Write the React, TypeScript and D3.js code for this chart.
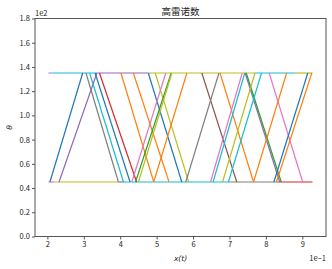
import * as d3 from 'd3';
import { useEffect, useRef } from 'react';

// theta levels (raw values, axis shows them /1e2)
const thetaLow = 45;
const thetaHigh = 135;

// diagonal segments: x where the line sits on the low level and on the high level (raw, axis /1e-1)
const diagColors = [
  '#1f77b4', '#9467bd', '#7f7f7f', '#17becf', '#1f77b4', '#d62728', '#ff7f0e', '#ff7f0e', '#1f77b4',
  '#bcbd22', '#e377c2', '#2ca02c', '#bcbd22', '#ff7f0e', '#8c564b', '#7f7f7f', '#ff7f0e', '#e377c2',
  '#17becf', '#9467bd', '#2ca02c', '#bcbd22', '#17becf', '#ff7f0e', '#e377c2', '#1f77b4', '#ff7f0e',
];
const diagLowX = [
  0.207, 0.232, 0.395, 0.409, 0.427, 0.445, 0.492, 0.534, 0.569,
  0.588, 0.432, 0.442, 0.450, 0.492, 0.720, 0.580, 0.766, 0.648,
  0.655, 0.838, 0.842, 0.681, 0.697, 0.766, 0.901, 0.822, 0.829,
];
const diagHighX = [
  0.297, 0.336, 0.306, 0.316, 0.331, 0.343, 0.402, 0.436, 0.477,
  0.496, 0.525, 0.540, 0.542, 0.583, 0.624, 0.671, 0.674, 0.735,
  0.742, 0.743, 0.746, 0.770, 0.788, 0.857, 0.809, 0.915, 0.926,
];

// flat pieces along the two levels
const topColors = ['#e377c2', '#17becf', '#9467bd', '#bcbd22', '#17becf', '#bcbd22'];
const topStart = [0.203, 0.210, 0.337, 0.477, 0.770, 0.880];
const topEnd = [0.210, 0.337, 0.477, 0.770, 0.880, 0.928];
const bottomColors = ['#e377c2', '#bcbd22', '#7f7f7f', '#17becf', '#7f7f7f', '#d62728'];
const bottomStart = [0.203, 0.220, 0.395, 0.410, 0.697, 0.833];
const bottomEnd = [0.220, 0.395, 0.410, 0.697, 0.833, 0.928];

const xTicks = [0.2, 0.3, 0.4, 0.5, 0.6, 0.7, 0.8, 0.9];
const yTicks = [0, 20, 40, 60, 80, 100, 120, 140, 160, 180];

const font = '"Noto Sans CJK SC", "Noto Sans", sans-serif';

export default function App() {
  const ref = useRef<SVGSVGElement>(null);

  useEffect(() => {
    const W = 332;
    const H = 269;
    const margin = { top: 18.5, right: 6, bottom: 32.5, left: 35 };
    const svg = d3.select(ref.current);
    svg.selectAll('*').remove();
    svg.attr('width', W).attr('height', H);

    const x = d3.scaleLinear().domain([0.166, 0.965]).range([margin.left, W - margin.right]);
    const y = d3.scaleLinear().domain([0, 180]).range([H - margin.bottom, margin.top]);

    const g = svg.append('g');

    // flat lines
    const flats = [
      ...topColors.map((c, i) => ({ c, x0: topStart[i], x1: topEnd[i], t: thetaHigh })),
      ...bottomColors.map((c, i) => ({ c, x0: bottomStart[i], x1: bottomEnd[i], t: thetaLow })),
    ];
    g.selectAll('.flat')
      .data(flats)
      .enter()
      .append('line')
      .attr('x1', d => x(d.x0))
      .attr('x2', d => x(d.x1))
      .attr('y1', d => y(d.t))
      .attr('y2', d => y(d.t))
      .attr('stroke', d => d.c)
      .attr('stroke-width', 1.2);

    // slanted lines
    const line = d3.line<[number, number]>().x(d => x(d[0])).y(d => y(d[1]));
    g.selectAll('.diag')
      .data(diagColors.map((c, i) => ({ c, pts: [[diagLowX[i], thetaLow], [diagHighX[i], thetaHigh]] as [number, number][] })))
      .enter()
      .append('path')
      .attr('d', d => line(d.pts))
      .attr('fill', 'none')
      .attr('stroke', d => d.c)
      .attr('stroke-width', 1.2);

    // frame
    svg.append('rect')
      .attr('x', margin.left)
      .attr('y', margin.top)
      .attr('width', W - margin.left - margin.right)
      .attr('height', H - margin.top - margin.bottom)
      .attr('fill', 'none')
      .attr('stroke', '#555')
      .attr('stroke-width', 1);

    // axes
    const xAxis = svg.append('g')
      .attr('transform', `translate(0,${H - margin.bottom})`)
      .call(d3.axisBottom(x).tickValues(xTicks).tickSize(3).tickPadding(2).tickFormat(d => String(Math.round(+d * 10))));
    const yAxis = svg.append('g')
      .attr('transform', `translate(${margin.left},0)`)
      .call(d3.axisLeft(y).tickValues(yTicks).tickSize(3).tickPadding(2).tickFormat(d => (+d / 100).toFixed(1)));
    [xAxis, yAxis].forEach(a => {
      a.select('.domain').remove();
      a.selectAll('line').attr('stroke', '#555');
      a.selectAll('text').attr('fill', '#222').style('font-family', font).style('font-size', '7.5px');
    });

    // labels
    svg.append('text')
      .attr('x', (margin.left + W - margin.right) / 2)
      .attr('y', 15)
      .attr('text-anchor', 'middle')
      .style('font-family', font)
      .style('font-size', '9.5px')
      .attr('fill', '#222')
      .text('高雷诺数');
    svg.append('text')
      .attr('x', margin.left)
      .attr('y', 16)
      .style('font-family', font)
      .style('font-size', '7.5px')
      .attr('fill', '#222')
      .text('1e2');
    svg.append('text')
      .attr('x', W - margin.right)
      .attr('y', 261)
      .attr('text-anchor', 'end')
      .style('font-family', font)
      .style('font-size', '7.5px')
      .attr('fill', '#222')
      .text('1e\u22121');
    svg.append('text')
      .attr('x', (margin.left + W - margin.right) / 2)
      .attr('y', 261)
      .attr('text-anchor', 'middle')
      .style('font-family', '"DejaVu Sans", sans-serif')
      .style('font-size', '7.5px')
      .style('font-style', 'italic')
      .attr('fill', '#222')
      .text('x(t)');
    svg.append('text')
      .attr('transform', `translate(12,${(margin.top + H - margin.bottom) / 2}) rotate(-90)`)
      .attr('text-anchor', 'middle')
      .style('font-family', '"DejaVu Sans", sans-serif')
      .style('font-size', '7.5px')
      .style('font-style', 'italic')
      .attr('fill', '#222')
      .text('θ');
  }, []);

  return (
    <div style={{ position: 'absolute', left: 0, top: 0 }}>
      <svg ref={ref} style={{ display: 'block' }} />
    </div>
  );
}
